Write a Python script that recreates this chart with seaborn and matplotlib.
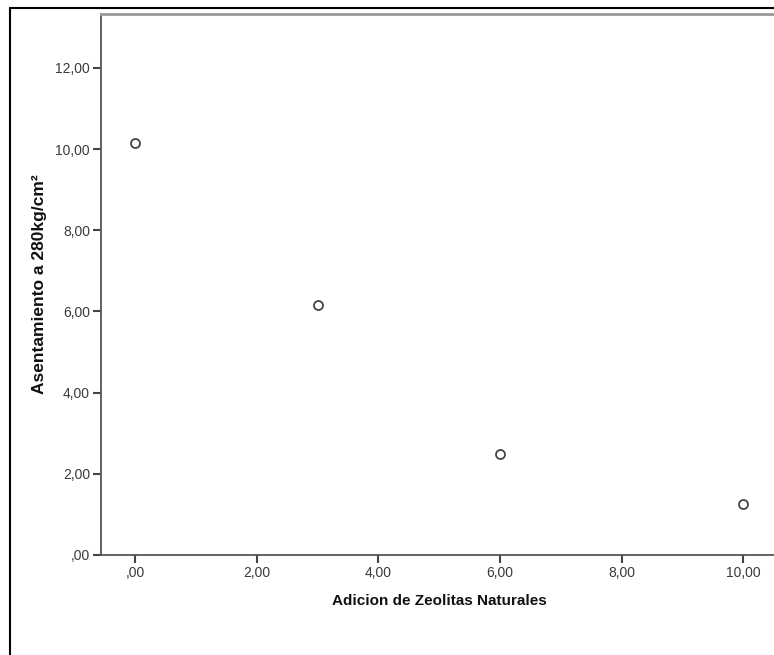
import matplotlib
matplotlib.use("Agg")
import matplotlib.pyplot as plt
from matplotlib.lines import Line2D
import pandas as pd
import seaborn as sns

# values
zeolitas = [0, 3, 6, 10]
asentamiento = [10.15, 6.15, 2.50, 1.25]
x_ticks = [0, 2, 4, 6, 8, 10]
y_ticks = [0, 2, 4, 6, 8, 10, 12]


def coma(v):
    # SPSS style: ",00" for zero, "2,00" etc.
    s = f"{v:.2f}".replace(".", ",")
    return s[1:] if s.startswith("0") else s


df = pd.DataFrame({"Adicion": zeolitas, "Asentamiento": asentamiento})

sns.set_style("white")
plt.rcParams["font.family"] = ["Liberation Sans", "DejaVu Sans"]

fig = plt.figure(figsize=(7.74, 6.55), dpi=100)
W, H = 774, 655
# axes box: left 101px, top 14px, bottom 555px, right runs off the canvas
ax = fig.add_axes([101 / W, 1 - 555 / H, (778 - 101) / W, (555 - 14) / H])

sns.scatterplot(data=df, x="Adicion", y="Asentamiento", ax=ax,
                marker="o", s=42, facecolor="white", edgecolor="#444444",
                linewidth=1.3, zorder=3)

ax.set_xlim(-0.56, 10.57)
ax.set_ylim(0, 13.33)
ax.set_xticks(x_ticks)
ax.set_xticklabels([coma(v) for v in x_ticks])
ax.set_yticks(y_ticks)
ax.set_yticklabels([coma(v) for v in y_ticks])

for side in ["left", "top", "bottom", "right"]:
    ax.spines[side].set_color("#555555")
    ax.spines[side].set_linewidth(1.3)
ax.spines["top"].set_color("#9a9a9a")
ax.spines["top"].set_linewidth(2.0)

ax.tick_params(axis="both", direction="out", length=6, width=1.5,
               color="#444444", labelsize=10, labelcolor="#3a3a3a",
               bottom=True, left=True, pad=2)

ax.set_xlabel("Adicion de Zeolitas Naturales", fontsize=11,
              fontweight="bold", color="#111111", labelpad=10)
ax.set_ylabel("Asentamiento a 280kg/cm²", fontsize=12.5,
              fontweight="bold", color="#111111", labelpad=6)

# outer frame of the SPSS output, cropped on the right and bottom
fig.add_artist(Line2D([10 / W, 10 / W], [0, 1 - 8 / H],
                      transform=fig.transFigure, color="black", lw=1.5))
fig.add_artist(Line2D([10 / W, 1], [1 - 8 / H, 1 - 8 / H],
                      transform=fig.transFigure, color="black", lw=1.5))

fig.savefig("out.png", dpi=100)
